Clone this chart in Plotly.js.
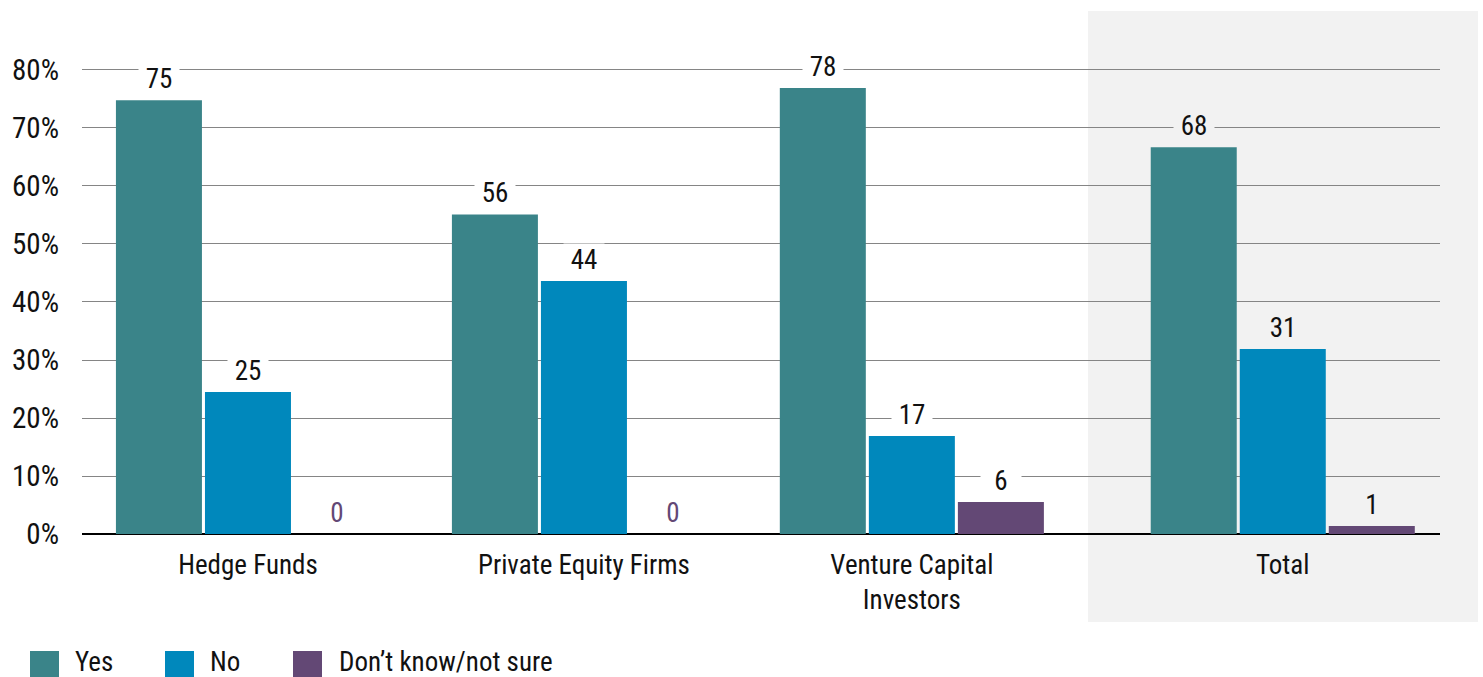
<!DOCTYPE html>
<html><head><meta charset="utf-8">
<script src="https://cdn.plot.ly/plotly-3.0.1.min.js"></script>
<style>html,body{margin:0;padding:0;background:#fff}#chart{width:1483px;height:677px}</style>
</head><body><div id="chart"></div>
<script>
// ---- data ----
const categories = ['Hedge Funds', 'Private Equity Firms', 'Venture Capital<br>Investors', 'Total'];
const seriesNames = ['Yes', 'No', 'Don’t know/not sure'];
const yesValues = [74.8, 55.1, 76.9, 66.7];
const noValues = [24.5, 43.6, 16.9, 31.9];
const dkValues = [0, 0, 5.5, 1.4];
const yesLabels = ['75', '56', '78', '68'];
const noLabels = ['25', '44', '17', '31'];
const dkLabels = ['0', '0', '6', '1'];
const yTickValues = [0, 10, 20, 30, 40, 50, 60, 70, 80];
const yTickLabels = ['0%', '10%', '20%', '30%', '40%', '50%', '60%', '70%', '80%'];

// ---- layout / style ----
const W = 1483, H = 677;
const M = {l: 82, r: 43, t: 11, b: 143};
const px2x = p => (p - M.l) / (W - M.l - M.r);
const py2y = p => (H - M.b - p) / (H - M.t - M.b);
const FONT = '"Roboto Condensed", Roboto, sans-serif';
const colors = ['#3a8489', '#0088bc', '#634875'];
const groupPos = [0, 1, 1.976, 3.08];
const barWidth = 0.256;
const barOffsets = [-0.393, -0.128, 0.137];
const values = [yesValues, noValues, dkValues];
const labels = [yesLabels, noLabels, dkLabels];

const traces = values.map((v, s) => ({
  type: 'bar', x: groupPos, y: v, name: seriesNames[s],
  width: barWidth, offset: barOffsets[s],
  marker: {color: colors[s], line: {width: 0}},
  showlegend: false, hoverinfo: 'skip'
}));

const annotations = [];
values.forEach((v, s) => {
  v.forEach((val, i) => {
    annotations.push({
      xref: 'x', yref: 'y', x: groupPos[i] + barOffsets[s] + barWidth / 2, y: val,
      text: labels[s][i], showarrow: false, yanchor: 'bottom', yshift: 4,
      width: 40, borderpad: 0,
      bgcolor: i === 3 ? '#f2f2f2' : '#ffffff',
      font: {family: FONT, size: 27, color: labels[s][i] === '0' ? colors[2] : '#111111'}
    });
  });
});

const legendSquareX = [30, 165, 293];
const legendTextX = [73, 208, 337];
const shapes = [{
  type: 'rect', xref: 'paper', yref: 'paper', layer: 'below',
  x0: px2x(1088), x1: px2x(1478), y0: py2y(622), y1: py2y(11),
  fillcolor: '#f2f2f2', line: {width: 0}
}];
seriesNames.forEach((n, s) => {
  shapes.push({
    type: 'rect', xref: 'paper', yref: 'paper',
    x0: px2x(legendSquareX[s]), x1: px2x(legendSquareX[s] + 29),
    y0: py2y(680), y1: py2y(651), fillcolor: colors[s], line: {width: 0}
  });
  annotations.push({
    xref: 'paper', yref: 'paper', x: px2x(legendTextX[s]), y: py2y(662),
    xanchor: 'left', yanchor: 'middle', showarrow: false, text: n,
    font: {family: FONT, size: 27, color: '#111111'}
  });
});

const layout = {
  width: W, height: H, margin: M,
  paper_bgcolor: '#ffffff', plot_bgcolor: 'rgba(0,0,0,0)',
  font: {family: FONT, size: 27, color: '#111111'},
  barmode: 'overlay', showlegend: false,
  xaxis: {
    type: 'linear', range: [-0.494, 3.548], tickvals: groupPos, ticktext: categories,
    showgrid: false, zeroline: false, showline: false, ticks: '',
    ticklabelstandoff: 12, tickfont: {family: FONT, size: 27, color: '#111111'}
  },
  yaxis: {
    range: [0, 90.17], tickvals: yTickValues, ticktext: yTickLabels,
    showgrid: true, gridcolor: '#858585', gridwidth: 1,
    zeroline: true, zerolinecolor: '#000000', zerolinewidth: 2,
    ticks: '', ticklabelstandoff: 22, tickfont: {family: FONT, size: 29, color: '#111111'}
  },
  shapes: shapes, annotations: annotations
};

Plotly.newPlot('chart', traces, layout, {displayModeBar: false, staticPlot: true});
</script></body></html>
